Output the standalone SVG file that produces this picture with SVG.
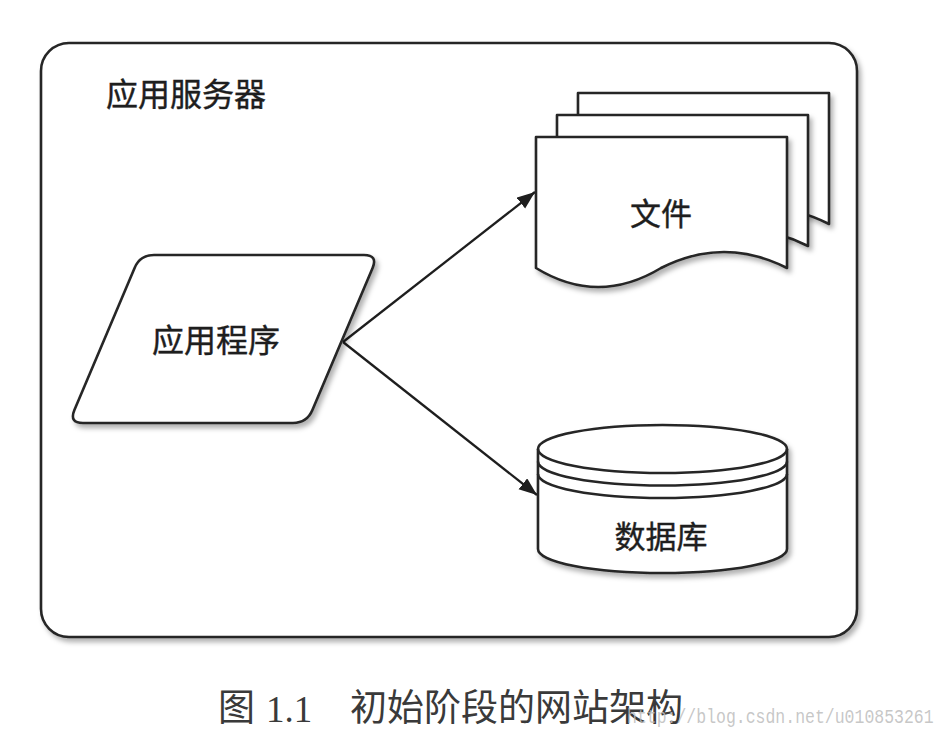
<svg xmlns="http://www.w3.org/2000/svg" width="946" height="744" viewBox="0 0 946 744">
<defs>
  <style>
    .shape{fill:#ffffff;stroke:#262626;stroke-width:2.6;stroke-linejoin:round}
    .line{fill:none;stroke:#262626;stroke-width:2.6}
    .lbl{font-family:"Noto Sans CJK SC","Noto Sans",sans-serif;fill:#1e1e1e;stroke:#1e1e1e;stroke-width:0.4}
    .conn{fill:none;stroke:#1e1e1e;stroke-width:2.3}
    .cap{font-family:"Noto Sans CJK SC","Noto Sans CJK JP",sans-serif;fill:#3a3a3a;font-size:37px}
  </style>
  <filter id="sh" x="-10%" y="-10%" width="125%" height="130%">
    <feDropShadow dx="3" dy="4" stdDeviation="2.5" flood-color="#000" flood-opacity="0.3"/>
  </filter>
  <marker id="arr" markerUnits="userSpaceOnUse" markerWidth="20" markerHeight="16" refX="18" refY="7" orient="auto">
    <path d="M0,0 L18,7 L0,14 Z" fill="#1e1e1e"/>
  </marker>
</defs>
<rect width="946" height="744" fill="#ffffff"/>

<g id="server">
  <rect class="shape" x="41" y="43" width="816" height="594" rx="28" ry="28" filter="url(#sh)"/>
  <text class="lbl" x="106" y="106" font-size="32">应用服务器</text>
</g>

<g id="connectors">
  <line class="conn" x1="343" y1="342" x2="535" y2="192" marker-end="url(#arr)"/>
  <line class="conn" x1="343" y1="342" x2="537" y2="495" marker-end="url(#arr)"/>
</g>

<g id="app">
  <path class="shape" filter="url(#sh)" d="M154,255 H364 Q378,255 372.6,267.9 L312.4,410.1 Q307,423 293,423 H83 Q69,423 74.4,410.1 L134.6,267.9 Q140,255 154,255 Z"/>
  <text class="lbl" x="216" y="352" font-size="32" text-anchor="middle">应用程序</text>
</g>

<g id="files">
  <path class="shape" filter="url(#sh)" transform="translate(42,-44)" d="M536,137 H787 V268 Q724,236 661,268 Q598,306 536,268 Z"/>
  <path class="shape" filter="url(#sh)" transform="translate(21,-22)" d="M536,137 H787 V268 Q724,236 661,268 Q598,306 536,268 Z"/>
  <path class="shape" filter="url(#sh)" d="M536,137 H787 V268 Q724,236 661,268 Q598,306 536,268 Z"/>
  <text class="lbl" x="661" y="225" font-size="31" text-anchor="middle">文件</text>
</g>

<g id="database">
  <path class="shape" filter="url(#sh)" d="M538,449 A124.5,24 0 0 1 787,449 V549 A124.5,24 0 0 1 538,549 Z"/>
  <path class="line" d="M538,449 A124.5,24 0 0 0 787,449"/>
  <path class="line" d="M538,461.5 A124.5,24 0 0 0 787,461.5"/>
  <path class="line" d="M538,474 A124.5,24 0 0 0 787,474"/>
  <text class="lbl" x="661" y="548" font-size="31" text-anchor="middle">数据库</text>
</g>

<g id="caption">
  <text class="cap" x="218" y="721">图</text>
  <text x="266" y="722" font-family="Liberation Serif, serif" font-size="37" fill="#3a3a3a">1.1</text>
  <text class="cap" x="350" y="721">初始阶段的网站架构</text>
  <text transform="translate(627,723) scale(1,1.25)" x="0" y="0" font-family="Liberation Mono, monospace" font-size="16.5" fill="#bdbdbd" fill-opacity="0.85">http://blog.csdn.net/u010853261</text>
</g>
</svg>
